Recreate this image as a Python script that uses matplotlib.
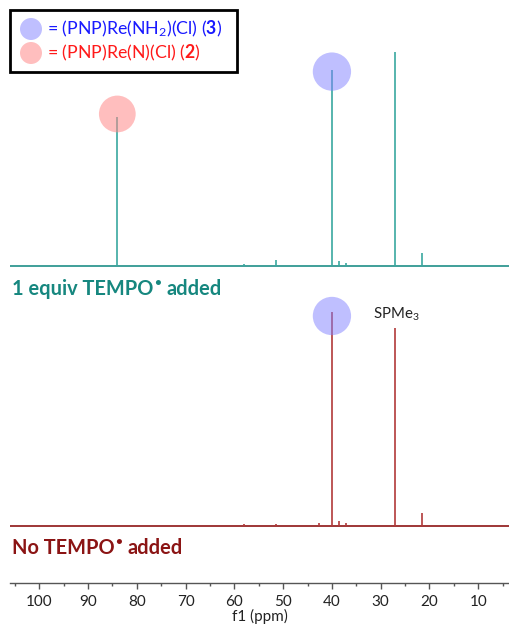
import matplotlib
matplotlib.use("Agg")
import matplotlib.pyplot as plt
from matplotlib.patches import Circle, Rectangle
from matplotlib.transforms import IdentityTransform

plt.rcParams['font.family'] = ['Lato', 'DejaVu Sans']
plt.rcParams['mathtext.fontset'] = 'custom'
plt.rcParams['mathtext.rm'] = 'Lato'
plt.rcParams['mathtext.bf'] = 'Lato:bold'
plt.rcParams['mathtext.it'] = 'Lato:italic'

# 31P{1H} peak lists (ppm, relative intensity)
top_ppm = [84.0, 58.0, 51.5, 40.0, 38.6, 37.2, 27.0, 21.5]
top_int = [0.695, 0.008, 0.028, 0.915, 0.023, 0.014, 1.0, 0.058]
bot_ppm = [58.0, 51.5, 42.6, 40.0, 38.6, 37.2, 27.0, 21.5]
bot_int = [0.007, 0.007, 0.014, 1.0, 0.020, 0.014, 0.922, 0.058]

# species markers: (ppm, height)
top_blue = (40.0, 0.907)
top_red = (84.0, 0.709)
bot_blue = (40.0, 0.980)

x_ticks = [100, 90, 80, 70, 60, 50, 40, 30, 20, 10]
top_offset = 1.215

W, H = 509, 626
fig = plt.figure(figsize=(W / 100, H / 100), dpi=100)

ax_bottom_px = 582.7
ax = fig.add_axes([10 / W, 1 - ax_bottom_px / H, 1 - 10 / W, ax_bottom_px / H])
ymin = -57.0 / 214
ax.set_ylim(ymin, ymin + ax_bottom_px / 214)
ax.set_xlim(106.0, 3.7)

teal_line = '#3aa8a0'
teal_base = '#1f8f88'
red_line = '#b23a3a'
red_base = '#8e1414'

# top trace
ax.axhline(top_offset, color=teal_base, lw=1.2, zorder=2)
ax.vlines(top_ppm, top_offset, [top_offset + v for v in top_int],
          color=teal_line, lw=1.2, zorder=2)
# bottom trace
ax.axhline(0, color=red_base, lw=1.2, zorder=2)
ax.vlines(bot_ppm, 0, bot_int, color=red_line, lw=1.2, zorder=2)

blue_c = '#8080ff'
red_c = '#ff8a8a'
ax.scatter([top_blue[0]], [top_offset + top_blue[1]], s=760, color=blue_c,
           alpha=0.5, edgecolors='none', zorder=3)
ax.scatter([top_red[0]], [top_offset + top_red[1]], s=700, color=red_c,
           alpha=0.55, edgecolors='none', zorder=3)
ax.scatter([bot_blue[0]], [bot_blue[1]], s=760, color=blue_c,
           alpha=0.5, edgecolors='none', zorder=3)

ax.text(31.6, 0.99, 'SPMe$_3$', fontsize=10.8, color='#222222',
        ha='left', va='center')

for s in ['top', 'left', 'right']:
    ax.spines[s].set_visible(False)
ax.spines['bottom'].set_color('#555555')
ax.spines['bottom'].set_linewidth(1.0)
ax.set_yticks([])
ax.set_xticks(x_ticks)
ax.set_xticks([105, 95, 85, 75, 65, 55, 45, 35, 25, 15, 5], minor=True)
ax.tick_params(axis='x', which='major', length=4, width=1, color='#555555',
               labelsize=11, pad=5, labelcolor='#222222')
ax.tick_params(axis='x', which='minor', length=2, width=1, color='#555555')
ax.set_xlabel('f1 (ppm)', fontsize=11, labelpad=0, color='#222222')
ax.patch.set_visible(False)


def label_with_radical(y_px, head, tail, color):
    """Bold trace label with a raised radical dot after TEMPO."""
    yb = 1 - y_px / H
    t1 = fig.text(12 / W, yb, head, fontsize=14.4, fontweight='bold',
                  color=color, ha='left', va='baseline')
    fig.add_artist(plt.Annotation(
        '\u2022', xy=(1, yb), xycoords=(t1, 'figure fraction'),
        xytext=(0.3, 6.3), textcoords='offset points', fontsize=8.6,
        fontweight='bold', color=color, ha='left', va='baseline'))
    fig.add_artist(plt.Annotation(
        tail, xy=(1, yb), xycoords=(t1, 'figure fraction'),
        xytext=(9.2, 0), textcoords='offset points', fontsize=14.4,
        fontweight='bold', color=color, ha='left', va='baseline'))


label_with_radical(295, '1 equiv TEMPO', 'added', '#16877f')
label_with_radical(554, 'No TEMPO', 'added', '#8b1414')

# key box
def px(x, y):
    return (x, H - y)

fig.add_artist(Rectangle(px(10, 72), 227, 62, transform=IdentityTransform(),
                         fill=False, edgecolor='black', lw=2))
fig.add_artist(Circle(px(31, 29), 11, transform=IdentityTransform(),
                      color=blue_c, alpha=0.5, lw=0))
fig.add_artist(Circle(px(31, 53), 11, transform=IdentityTransform(),
                      color=red_c, alpha=0.55, lw=0))
fig.text(47 / W, 1 - 29 / H, r'= (PNP)Re(NH$_2$)(Cl) ($\mathbf{3}$)',
         fontsize=12.8, color='#1a1aff', ha='left', va='center')
fig.text(47 / W, 1 - 53 / H, r'= (PNP)Re(N)(Cl) ($\mathbf{2}$)',
         fontsize=12.8, color='#ff1a1a', ha='left', va='center')

fig.savefig('out.png', dpi=100)
